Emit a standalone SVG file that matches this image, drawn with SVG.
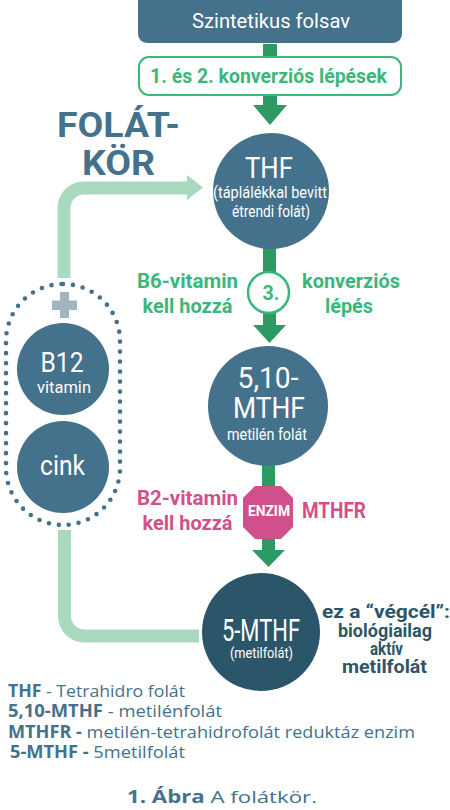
<svg xmlns="http://www.w3.org/2000/svg" width="450" height="810" viewBox="0 0 450 810">
<style>
.c{font-family:Roboto,"Liberation Sans",sans-serif;}
.w{fill:#fff;}
.g{fill:#3bb77b;font-weight:bold;}
.p{fill:#d1508b;font-weight:bold;}
.d{fill:#2b5568;font-weight:bold;}
.b{fill:#44718b;}
.leg{font-family:"Open Sans","Liberation Sans",sans-serif;fill:#44718b;font-size:17px;}
.arrow{fill:#2e9a63;}
.node{fill:#44718b;}
</style>
<rect width="450" height="810" fill="#fff"/>
<g id="connectors">
  <rect class="arrow" x="263" y="44" width="14" height="14"/>
  <rect class="arrow" x="263" y="95" width="14" height="12"/>
  <polygon class="arrow" points="253,105 287,105 270,125"/>
  <rect class="arrow" x="263" y="246" width="13" height="28"/>
  <rect class="arrow" x="263" y="311" width="13" height="16"/>
  <polygon class="arrow" points="253,325 286,325 269.5,343"/>
  <rect class="arrow" x="262" y="463" width="13" height="26"/>
  <rect class="arrow" x="262" y="536" width="13" height="16"/>
  <polygon class="arrow" points="252,550 285,550 268.5,567"/>
  <path d="M64,278 V208 A20,20 0 0 1 84,188 H190" fill="none" stroke="#a9d9bf" stroke-width="13"/>
  <polygon points="187,175 203,187.5 187,200" fill="#a9d9bf"/>
  <path d="M64.5,530 V616 A20,20 0 0 0 84.5,636 H199" fill="none" stroke="#a9d9bf" stroke-width="13"/>
</g>
<g id="title">
  <text class="c b" x="118.5" y="137" font-size="35" font-weight="bold" text-anchor="middle" textLength="123" lengthAdjust="spacingAndGlyphs">FOLÁT-</text>
  <text class="c b" x="118.5" y="175" font-size="35" font-weight="bold" text-anchor="middle" textLength="73" lengthAdjust="spacingAndGlyphs">KÖR</text>
</g>
<g id="szintetikus">
  <rect x="138" y="-10" width="264" height="53" rx="9" fill="#44718b"/>
  <text class="c w" x="271" y="28" font-size="20.5" text-anchor="middle" textLength="158" lengthAdjust="spacingAndGlyphs">Szintetikus folsav</text>
</g>
<g id="lepesek12">
  <rect x="139" y="57" width="262" height="38" rx="10" fill="#fff" stroke="#3bb77b" stroke-width="2"/>
  <text class="c g" x="268.5" y="83" font-size="21" text-anchor="middle" textLength="237" lengthAdjust="spacingAndGlyphs">1. és 2. konverziós lépések</text>
</g>
<g id="thf">
  <circle class="node" cx="271" cy="191" r="58"/>
  <text class="c w" x="269" y="178" font-size="29" text-anchor="middle" textLength="48" lengthAdjust="spacingAndGlyphs">THF</text>
  <text class="c w" x="270" y="198" font-size="16" text-anchor="middle" textLength="114" lengthAdjust="spacingAndGlyphs">(táplálékkal bevitt</text>
  <text class="c w" x="271" y="217" font-size="16" text-anchor="middle" textLength="78" lengthAdjust="spacingAndGlyphs">étrendi folát)</text>
</g>
<g id="lepes3">
  <circle cx="268.5" cy="292.5" r="20.5" fill="#fff" stroke="#3bb77b" stroke-width="2.5"/>
  <text class="c g" x="271" y="300" font-size="21" text-anchor="middle" textLength="17" lengthAdjust="spacingAndGlyphs">3.</text>
  <text class="c g" x="187.5" y="288" font-size="21" text-anchor="middle" textLength="101" lengthAdjust="spacingAndGlyphs">B6-vitamin</text>
  <text class="c g" x="187.5" y="313" font-size="21" text-anchor="middle" textLength="90" lengthAdjust="spacingAndGlyphs">kell hozzá</text>
  <text class="c g" x="351" y="288" font-size="21" text-anchor="middle" textLength="98" lengthAdjust="spacingAndGlyphs">konverziós</text>
  <text class="c g" x="349" y="313" font-size="21" text-anchor="middle" textLength="48" lengthAdjust="spacingAndGlyphs">lépés</text>
</g>
<g id="kofaktorok">
  <rect x="6" y="284" width="114" height="241" rx="57" fill="none" stroke="#44718b" stroke-width="4.6" stroke-dasharray="0 10" stroke-linecap="round"/>
  <rect x="52" y="300.5" width="25" height="9.5" fill="#a0b4c1"/>
  <rect x="60" y="292" width="9" height="26" fill="#a0b4c1"/>
</g>
<g id="b12">
  <circle class="node" cx="63" cy="369" r="46"/>
  <text class="c w" x="62" y="372" font-size="28" text-anchor="middle" textLength="43" lengthAdjust="spacingAndGlyphs">B12</text>
  <text class="c w" x="64" y="393" font-size="17" text-anchor="middle" textLength="54" lengthAdjust="spacingAndGlyphs">vitamin</text>
</g>
<g id="cink">
  <circle class="node" cx="63" cy="467" r="46"/>
  <text class="c w" x="62.5" y="475" font-size="28" text-anchor="middle" textLength="45" lengthAdjust="spacingAndGlyphs">cink</text>
</g>
<g id="mthf510">
  <circle class="node" cx="268" cy="406" r="60"/>
  <text class="c w" x="268" y="388" font-size="30" text-anchor="middle" textLength="61" lengthAdjust="spacingAndGlyphs">5,10-</text>
  <text class="c w" x="269" y="418" font-size="30" text-anchor="middle" textLength="72" lengthAdjust="spacingAndGlyphs">MTHF</text>
  <text class="c w" x="267" y="440" font-size="16" text-anchor="middle" textLength="80" lengthAdjust="spacingAndGlyphs">metilén folát</text>
</g>
<g id="enzim">
  <polygon points="255,486 281,486 293,498 293,527 281,539 255,539 243,527 243,498" fill="#d1508b"/>
  <text class="c w" x="269" y="516" font-size="15" font-weight="bold" text-anchor="middle" textLength="42" lengthAdjust="spacingAndGlyphs">ENZIM</text>
  <text class="c p" x="187.5" y="505" font-size="21" text-anchor="middle" textLength="101" lengthAdjust="spacingAndGlyphs">B2-vitamin</text>
  <text class="c p" x="187.5" y="530" font-size="21" text-anchor="middle" textLength="90" lengthAdjust="spacingAndGlyphs">kell hozzá</text>
  <text class="c p" x="302" y="518" font-size="22" textLength="64" lengthAdjust="spacingAndGlyphs">MTHFR</text>
</g>
<g id="mthf5">
  <circle cx="261" cy="632" r="59" fill="#2b5568"/>
  <text class="c w" x="261" y="641" font-size="31" text-anchor="middle" textLength="78" lengthAdjust="spacingAndGlyphs">5-MTHF</text>
  <text class="c w" x="261.5" y="658" font-size="15.5" text-anchor="middle" textLength="63" lengthAdjust="spacingAndGlyphs">(metilfolát)</text>
</g>
<g id="vegcel">
  <text class="c d" x="386" y="618" font-size="18" text-anchor="middle" textLength="128" lengthAdjust="spacingAndGlyphs">ez a “végcél”:</text>
  <text class="c d" x="385" y="637" font-size="18" text-anchor="middle" textLength="94" lengthAdjust="spacingAndGlyphs">biológiailag</text>
  <text class="c d" x="386.5" y="655" font-size="18" text-anchor="middle" textLength="33" lengthAdjust="spacingAndGlyphs">aktív</text>
  <text class="c d" x="384.5" y="673" font-size="18" text-anchor="middle" textLength="85" lengthAdjust="spacingAndGlyphs">metilfolát</text>
</g>
<g id="legend">
  <text class="leg" x="8" y="697" textLength="177" lengthAdjust="spacingAndGlyphs"><tspan font-weight="bold">THF</tspan> - Tetrahidro folát</text>
  <text class="leg" x="8" y="717" textLength="214" lengthAdjust="spacingAndGlyphs"><tspan font-weight="bold">5,10-MTHF</tspan> - metilénfolát</text>
  <text class="leg" x="8" y="738" textLength="407" lengthAdjust="spacingAndGlyphs"><tspan font-weight="bold">MTHFR -</tspan> metilén-tetrahidrofolát reduktáz enzim</text>
  <text class="leg" x="10" y="758" textLength="175" lengthAdjust="spacingAndGlyphs"><tspan font-weight="bold">5-MTHF -</tspan> 5metilfolát</text>
</g>
<g id="caption">
  <text class="leg" x="222" y="803" font-size="20" text-anchor="middle" textLength="190" lengthAdjust="spacingAndGlyphs"><tspan font-weight="bold">1. Ábra</tspan> A folátkör.</text>
</g>
</svg>
